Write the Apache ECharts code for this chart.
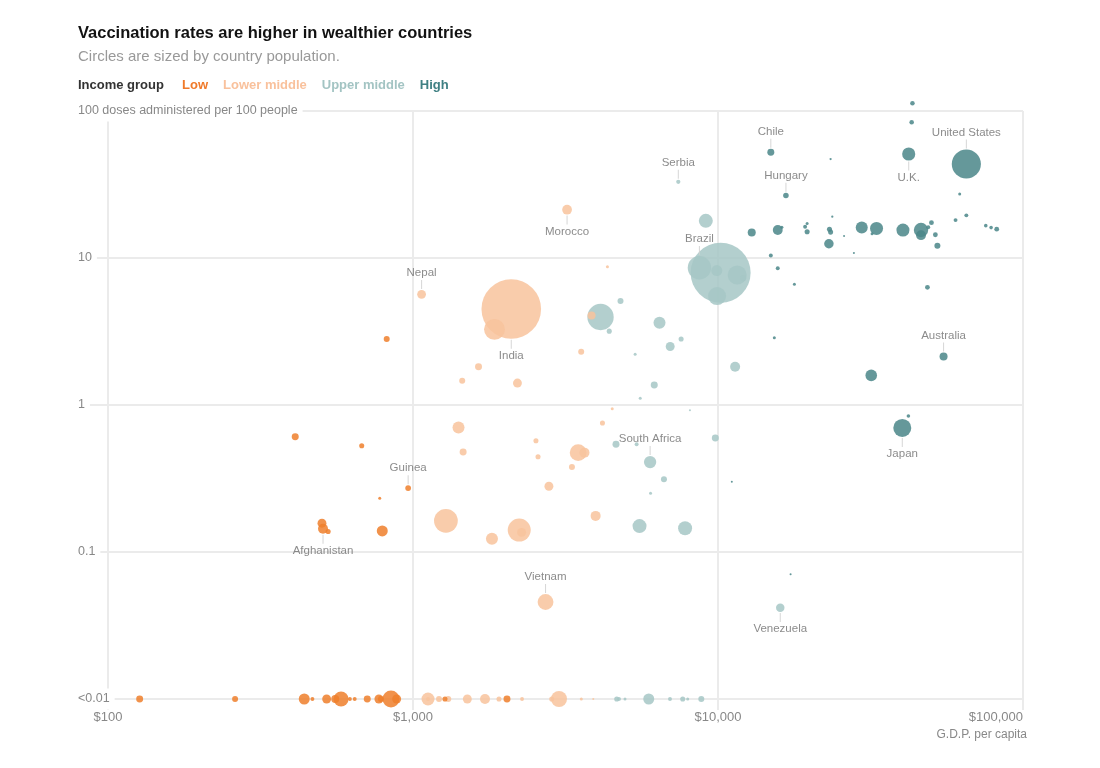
<!DOCTYPE html>
<html>
<head>
<meta charset="utf-8">
<script src="https://cdn.jsdelivr.net/npm/echarts@6/dist/echarts.min.js"></script>
<style>
html,body{margin:0;padding:0;background:#fff;}
#chart{width:1100px;height:768px;}
</style>
</head>
<body>
<div id="chart"></div>
<script>
// [G.D.P. per capita ($), doses per 100 people, population (millions), label]
const lowData = [
  [127, 0.01, 19], [261, 0.01, 14], [440, 0.01, 47], [468, 0.01, 6], [521, 0.01, 31],
  [556, 0.01, 25], [581, 0.01, 88], [621, 0.01, 6], [644, 0.01, 6], [708, 0.01, 19],
  [773, 0.01, 31], [785, 0.01, 14], [847, 0.01, 112], [884, 0.01, 31], [1273, 0.01, 10],
  [2033, 0.01, 19],
  [411, 0.608, 19], [679, 0.528, 10], [820, 2.81, 14], [964, 0.272, 13, 'Guinea'],
  [778, 0.232, 3.5], [503, 0.157, 31], [507, 0.144, 39, 'Afghanistan'], [527, 0.138, 10],
  [793, 0.139, 47]
];
const lowerMiddleData = [
  [1120, 0.01, 66], [1120, 0.01, 6], [1217, 0.01, 14], [1305, 0.01, 14], [1507, 0.01, 31],
  [1722, 0.01, 39], [1914, 0.01, 10], [2278, 0.01, 6], [2850, 0.01, 10], [3011, 0.01, 100],
  [3563, 0.01, 3.5], [3900, 0.01, 1.6],
  [3200, 21.3, 37, 'Morocco'], [4340, 8.73, 3.5], [1067, 5.66, 30, 'Nepal'],
  [2100, 4.50, 1380, 'India'], [1850, 3.27, 170], [3850, 4.07, 25], [3560, 2.30, 14],
  [1640, 1.82, 19], [1450, 1.46, 14], [2200, 1.41, 31], [4500, 0.944, 3.5], [4180, 0.755, 10],
  [1410, 0.702, 56], [2530, 0.572, 10], [1460, 0.479, 19], [2570, 0.445, 10], [3480, 0.474, 110],
  [3650, 0.474, 39], [3320, 0.378, 14], [2790, 0.280, 31], [3970, 0.176, 39], [1282, 0.163, 220],
  [1815, 0.123, 56], [2230, 0.141, 206], [2270, 0.136, 31], [2720, 0.0457, 97, 'Vietnam']
];
const upperMiddleData = [
  [4655, 0.01, 10], [4735, 0.01, 6], [4955, 0.01, 3.5], [5928, 0.01, 47], [6960, 0.01, 6],
  [7661, 0.01, 10], [7956, 0.01, 3.5], [8815, 0.01, 14],
  [7410, 33.0, 7, 'Serbia'], [9120, 17.9, 76], [10200, 7.94, 1400], [8690, 8.59, 212, 'Brazil'],
  [9910, 8.21, 47], [11560, 7.66, 140], [12090, 7.27, 14], [9930, 5.51, 126], [4120, 3.97, 270],
  [4790, 5.10, 14], [4400, 3.18, 10], [6430, 3.63, 56], [7570, 2.81, 10], [6970, 2.50, 31],
  [5350, 2.21, 3.5], [11380, 1.82, 39], [6180, 1.37, 19], [5560, 1.11, 3.5], [8090, 0.920, 1.6],
  [9800, 0.597, 19], [4630, 0.541, 19], [5410, 0.541, 6], [5990, 0.409, 59, 'South Africa'],
  [6650, 0.313, 14], [6010, 0.251, 3.5], [5530, 0.150, 76], [7800, 0.145, 76],
  [16000, 0.0418, 28, 'Venezuela']
];
const highData = [
  [43400, 113, 8], [43150, 83.8, 8], [14900, 52.4, 19, 'Chile'], [23400, 47.1, 2],
  [42200, 51.0, 67, 'U.K.'], [65200, 43.6, 330, 'United States'], [16700, 26.6, 12, 'Hungary'],
  [62000, 27.2, 3.5], [23700, 19.1, 2], [60100, 18.1, 6], [65200, 19.5, 6],
  [12900, 14.9, 25], [15700, 15.5, 38], [16200, 16.2, 3.5], [14900, 10.4, 6], [19300, 16.3, 6],
  [19600, 17.2, 3.5], [19600, 15.1, 10], [23200, 15.7, 10], [23400, 15.0, 10], [23100, 12.5, 35],
  [25900, 14.1, 1.6], [27900, 10.8, 1.6], [29600, 16.1, 56], [33100, 15.9, 66], [32000, 14.6, 3.5],
  [40400, 15.5, 66], [46300, 15.5, 80], [46300, 14.3, 38], [48900, 16.2, 6], [50100, 17.4, 9],
  [51600, 14.4, 9], [52400, 12.1, 14], [75500, 16.6, 5], [78600, 16.1, 5], [82000, 15.7, 9],
  [15700, 8.51, 6], [17800, 6.62, 3.5], [48600, 6.32, 9], [15300, 2.87, 3.5],
  [54900, 2.14, 25, 'Australia'], [31800, 1.59, 52], [42100, 0.841, 5], [40200, 0.698, 126, 'Japan'],
  [11100, 0.301, 1.6], [17300, 0.0705, 1.6]
];
const groupNames = ['Low', 'Lower middle', 'Upper middle', 'High'];
const xTickLabels = ['$100', '$1,000', '$10,000', '$100,000'];
const yTickLabels = ['<0.01', '0.1', '1', '10', '100 doses administered per 100 people'];
const labelBelow = ['India', 'Morocco', 'U.K.', 'Japan', 'Afghanistan', 'Venezuela'];

const fillColors = ['#ef7f2c', '#f8c39c', '#a6c7c5', '#4a8688'];
const legendColors = ['#f07a2a', '#f9c19c', '#a3c4c3', '#3f8083'];
const FONT = '"Liberation Sans", Arial, sans-serif';
const GRID = '#ebebeb';

function toItems(rows) {
  return rows.map(function (r) {
    const item = { value: [r[0], r[1], r[2]], name: r[3] || '' };
    if (r[3]) {
      const below = labelBelow.indexOf(r[3]) >= 0;
      item.label = {
        show: true,
        position: below ? 'bottom' : 'top',
        distance: 1,
        formatter: below ? '{l| }\n{n|' + r[3] + '}' : '{n|' + r[3] + '}\n{l| }',
        rich: {
          n: { fontSize: 11.5, color: '#777', lineHeight: 14, fontFamily: FONT },
          l: { width: 1, height: 9, lineHeight: 9, fontSize: 1, backgroundColor: '#cfcfcf' }
        }
      };
    }
    return item;
  });
}

const allData = [lowData, lowerMiddleData, upperMiddleData, highData];
const drawOrder = [2, 3, 1, 0];
const series = drawOrder.map(function (gi) {
  return {
    name: groupNames[gi],
    type: 'scatter',
    clip: false,
    data: toItems(allData[gi]),
    symbolSize: function (v) { return Math.max(2, 60 * Math.sqrt(v[2] / 1400)); },
    itemStyle: { color: fillColors[gi], opacity: 0.85 },
    emphasis: { disabled: true },
    z: 2
  };
});

const chart = echarts.init(document.getElementById('chart'), null, { renderer: 'canvas' });
chart.setOption({
  animation: false,
  backgroundColor: '#fff',
  textStyle: { fontFamily: FONT },
  title: {
    left: 78, top: 25, padding: 0,
    text: 'Vaccination rates are higher in wealthier countries',
    subtext: 'Circles are sized by country population.',
    itemGap: 7,
    textStyle: { fontSize: 16.5, fontWeight: 'bold', color: '#121212', fontFamily: FONT },
    subtextStyle: { fontSize: 15, color: '#999', fontFamily: FONT }
  },
  legend: {
    left: 177, top: 79, padding: 0,
    icon: 'none', itemWidth: 0, itemHeight: 0, itemGap: 10,
    selectedMode: false,
    data: groupNames.map(function (n, i) {
      return { name: n, textStyle: { color: legendColors[i] } };
    }),
    textStyle: { fontSize: 13, fontWeight: 'bold', fontFamily: FONT }
  },
  graphic: [
    { type: 'text', left: 78, top: 79, style: { text: 'Income group', fill: '#333', font: 'bold 13px ' + FONT } },
    { type: 'text', right: 73, top: 729, style: { text: 'G.D.P. per capita', fill: '#888', font: '12px ' + FONT } }
  ],
  grid: { left: 108, right: 77, top: 111, bottom: 69, containLabel: false },
  xAxis: {
    type: 'log', logBase: 10, min: 100, max: 100000,
    axisLine: { show: false },
    axisTick: { show: true, length: 11, lineStyle: { color: GRID, width: 2 } },
    splitLine: { show: true, lineStyle: { color: GRID, width: 2 } },
    axisLabel: {
      margin: 12, color: '#888', fontSize: 13, fontFamily: FONT,
      alignMaxLabel: 'right',
      formatter: function (v) { return xTickLabels[Math.round(Math.log10(v)) - 2]; }
    }
  },
  yAxis: {
    type: 'log', logBase: 10, min: 0.01, max: 100,
    axisLine: { show: false },
    axisTick: { show: true, length: 30, lineStyle: { color: GRID, width: 2 } },
    splitLine: { show: true, lineStyle: { color: GRID, width: 2 } },
    axisLabel: {
      margin: 30, align: 'left', color: '#888', fontSize: 12.5, fontFamily: FONT,
      backgroundColor: '#fff', padding: [4, 5, 4, 0],
      formatter: function (v) { return yTickLabels[Math.round(Math.log10(v)) + 2]; }
    }
  },
  series: series
});
</script>
</body>
</html>
